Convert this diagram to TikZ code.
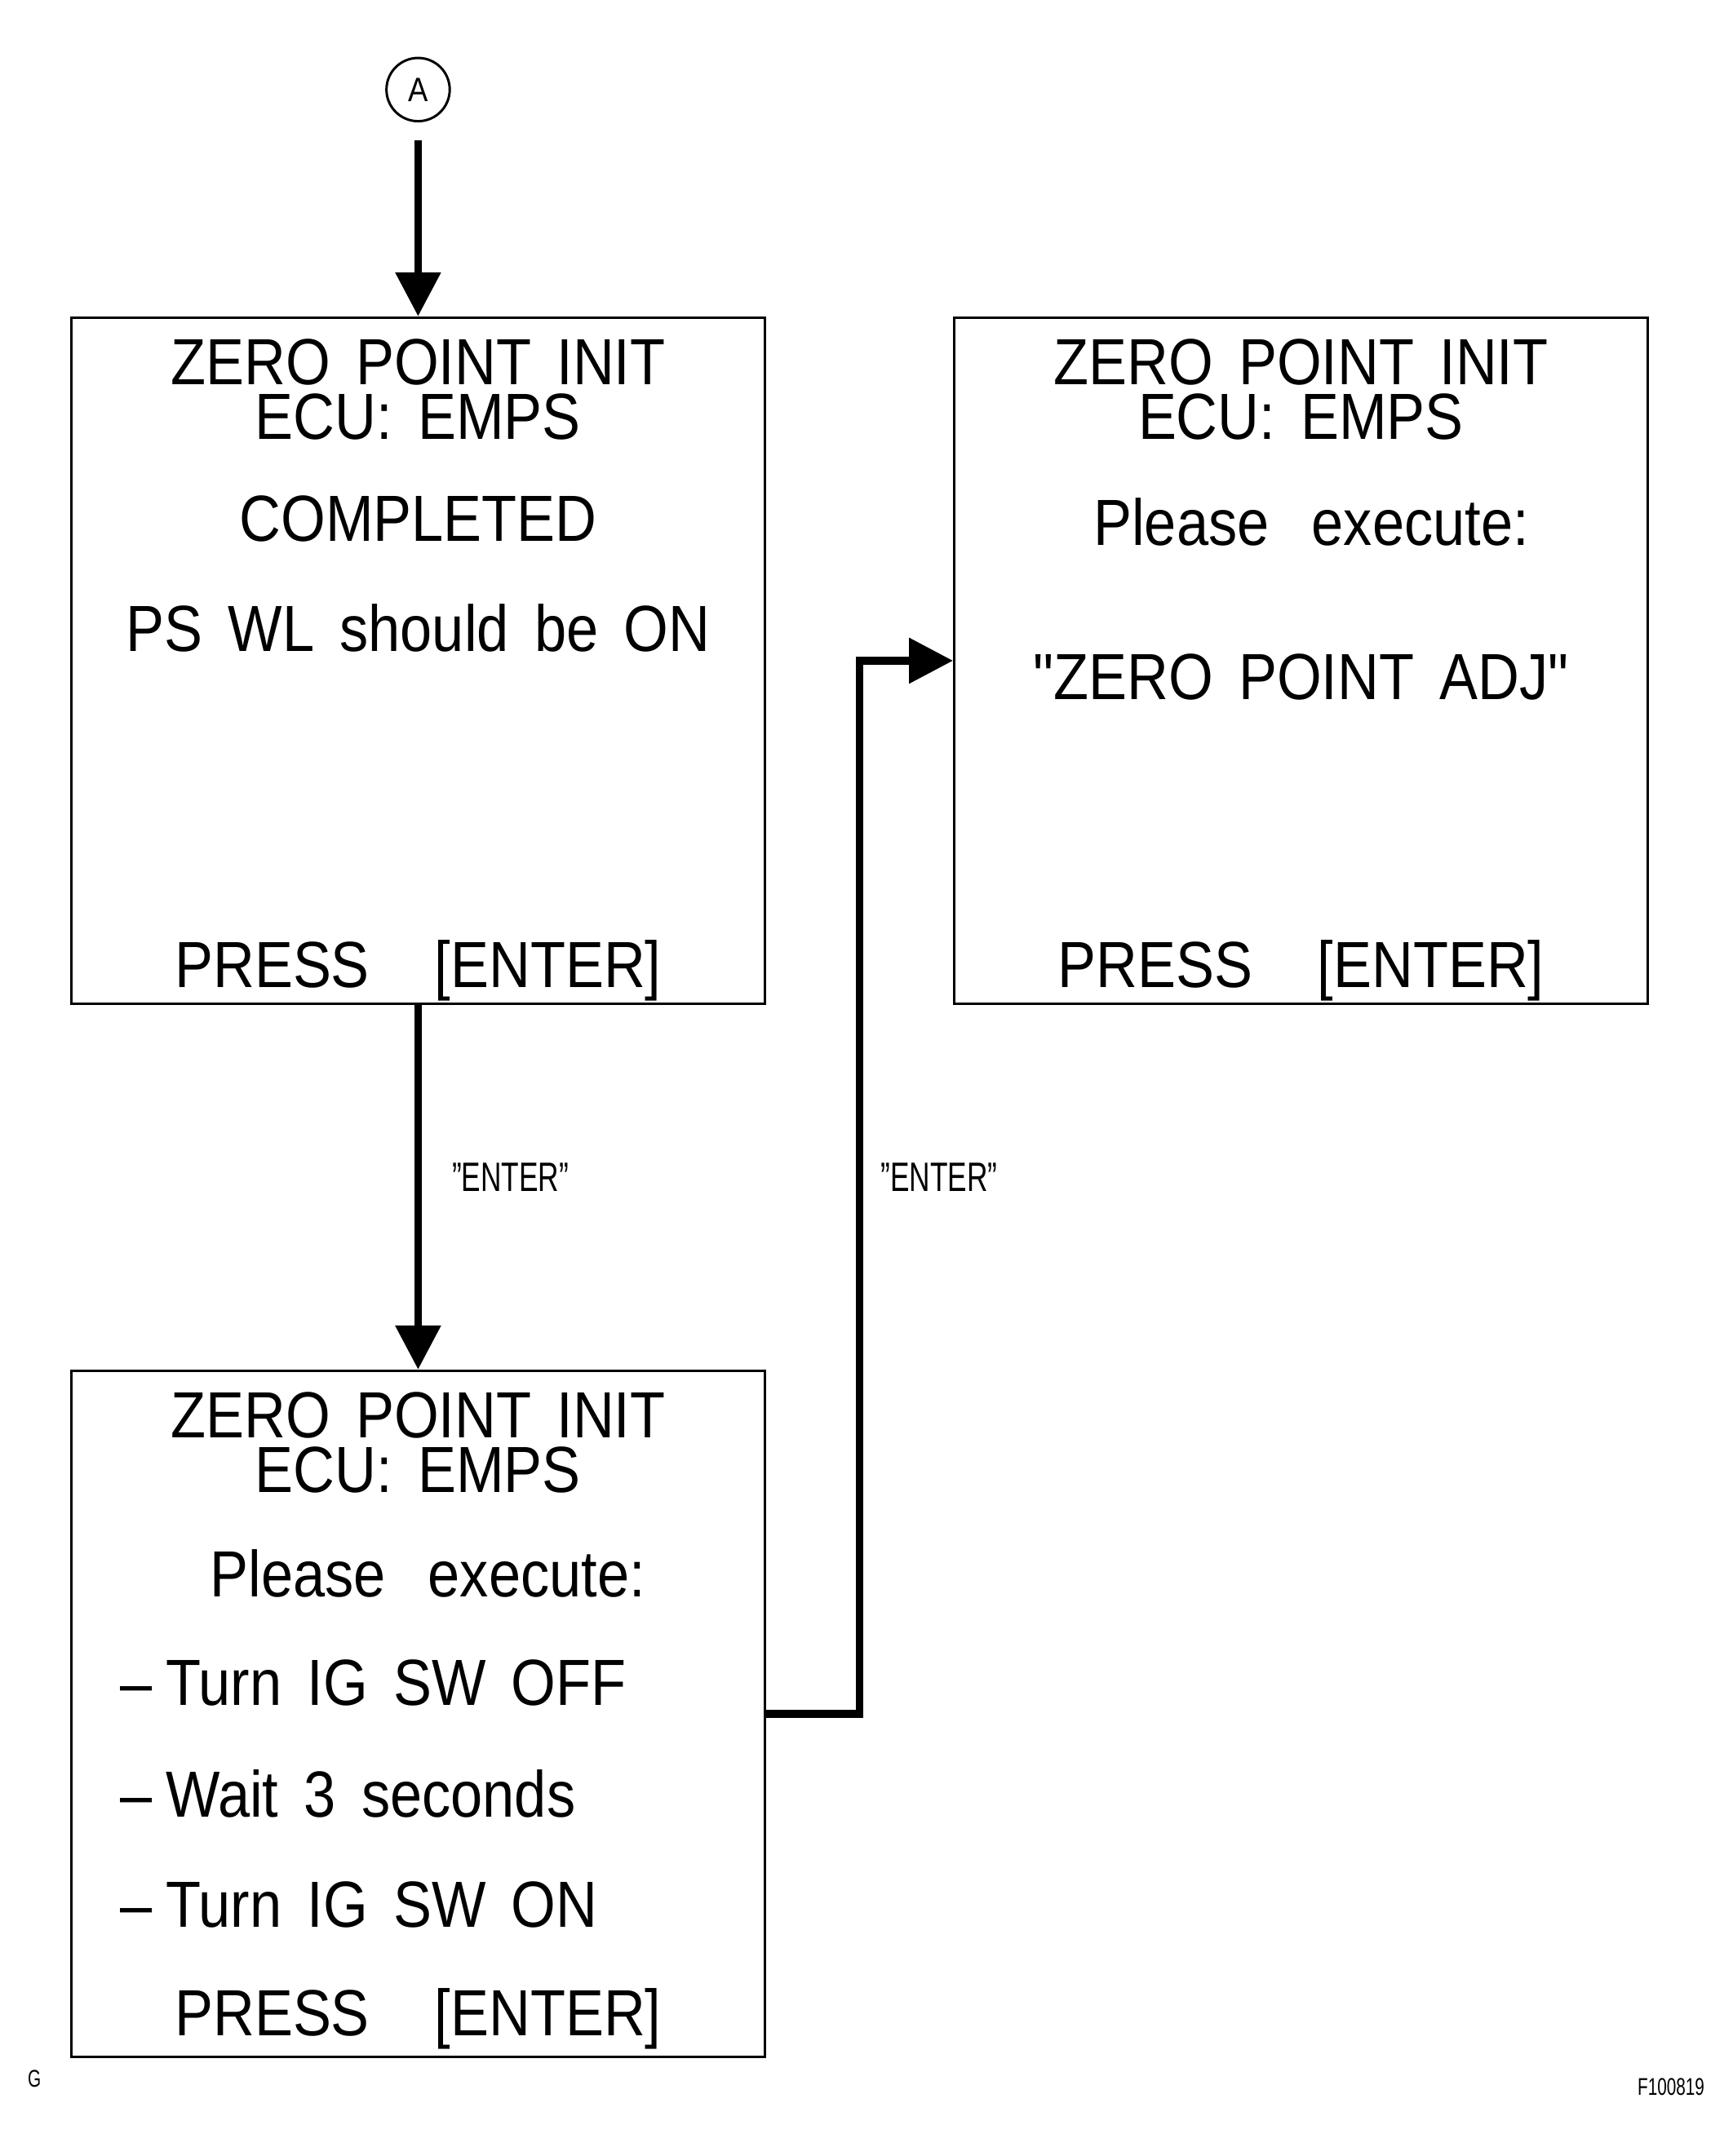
\documentclass[tikz,border=0pt]{standalone}
\usepackage{fontspec}
\setmainfont[FakeStretch=0.88,WordSpace=1.6,Ligatures=TeXOff]{Liberation Sans}
\newfontfamily\narrowfont[FakeStretch=0.7]{Liberation Sans}
\usetikzlibrary{arrows.meta, positioning, calc}

\begin{document}
\begin{tikzpicture} [
	>={Triangle[width=0.64cm,length=0.64cm]}, % big filled arrow heads
	screen/.style={draw, line width=1.1pt, minimum width=10.08cm, minimum height=9.98cm, inner sep=0pt}, % one tester screen
	scr/.style={anchor=base, inner sep=0pt, font=\fontsize{27}{30}\selectfont}, % a line of screen text
	item/.style={scr, anchor=base west},
	flow/.style={->, line width=3.2pt},
	tag/.style={inner sep=0pt, font=\narrowfont\fontsize{17}{17}\selectfont},
	]
	\useasboundingbox (0,0) rectangle (25.2,-31.36);

	\node[screen] (done) at (6.08,-9.61) {};
	\node[screen, right=2.72cm of done] (adj) {};
	\node[screen, below=5.3cm of done] (ign) {};
	\node[circle, draw, line width=1pt, minimum size=0.92cm, inner sep=0pt, font=\fontsize{14}{14}\selectfont, above=2.82cm of done] (a) {A};

	% header and footer of every screen
	\foreach \s/\p in {done/0.26, adj/0.26, ign/0.33} {
		\node[scr] (\s-title) at ([yshift=-0.99cm]\s.north) {ZERO POINT INIT};
		\node[scr] (\s-ecu) at ([yshift=-1.79cm]\s.north) {ECU: EMPS};
		\node[scr] (\s-press) at ([yshift=\p cm]\s.south) {PRESS\quad [ENTER]};
	}

	\node[scr] (done-msg) at ([yshift=-3.27cm]done.north) {COMPLETED};
	\node[scr] (done-wl) at ([yshift=-4.87cm]done.north) {PS WL should be ON};

	\node[scr] (adj-msg) at ([xshift=0.15cm, yshift=-3.33cm]adj.north) {Please\hspace{0.62cm}execute:};
	\node[scr] (adj-cmd) at ([yshift=-5.57cm]adj.north) {"ZERO POINT ADJ"};

	\node[scr] (ign-msg) at ([xshift=0.14cm, yshift=-3.31cm]ign.north) {Please\hspace{0.62cm}execute:};
	\node[item] (ign-off) at ([xshift=0.72cm, yshift=-4.89cm]ign.north west) {–\hspace{0.2cm}Turn IG SW OFF};
	\node[item] (ign-wait) at ([xshift=0.72cm, yshift=-6.51cm]ign.north west) {–\hspace{0.2cm}Wait 3 seconds};
	\node[item] (ign-on) at ([xshift=0.72cm, yshift=-8.11cm]ign.north west) {–\hspace{0.2cm}Turn IG SW ON};

	\coordinate (turn) at ($(ign.east)!0.5!(adj.west)$);
	\draw[flow, shorten <=0.26cm] (a) -- (done);
	\draw[flow] (done) -- node[tag, right=0.44cm, yshift=0.14cm] (enter1) {”ENTER”} (ign);
	\draw[flow] (ign) -| (turn) |- (adj);
	\node[tag, right=0.3cm of turn, yshift=0.14cm] (enter2) {”ENTER”};

	\node[font=\narrowfont\fontsize{10}{10}\selectfont] (gmark) at (0.5,-30.24) {G};
	\node[font=\narrowfont\fontsize{10}{10}\selectfont] (fig) at (24.3,-30.36) {F100819};
\end{tikzpicture}
\end{document}
